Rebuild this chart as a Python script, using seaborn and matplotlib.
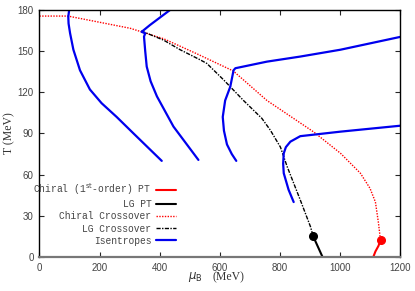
import matplotlib
matplotlib.use('Agg')
import matplotlib.pyplot as plt
import seaborn as sns
import pandas as pd

# Phase diagram curves (mu_B in MeV, T in MeV)
chiral_pt_mu = [1135, 1128, 1118, 1111]
chiral_pt_T = [12, 8, 4, 0]

lg_pt_mu = [911, 942]
lg_pt_T = [15, 0]

chiral_co_mu = [0, 95, 200, 302, 413, 524, 645, 757, 913, 1002, 1068, 1100, 1118, 1128, 1135]
chiral_co_T = [175.5, 175.5, 171, 166.6, 159, 148, 135.5, 114, 91, 75.5, 61, 50, 40, 25, 12]

lg_co_mu = [340, 346, 413, 468, 535, 557, 613, 679, 740, 768, 802, 824, 868, 902, 911]
lg_co_T = [165, 164, 158, 151, 143.6, 141, 129, 114, 101, 92.5, 80, 66, 41.5, 22, 15]

isen1_mu = [99, 96, 97, 102, 113, 135, 168, 207, 257, 313, 407]
isen1_T = [180, 175, 170, 163, 151, 136, 122, 112, 102, 90, 70]
isen2_mu = [435, 368, 340, 352, 348, 352, 357, 370, 391, 446, 529]
isen2_T = [180, 169, 164, 163, 160.5, 150, 138.7, 128, 117, 95, 70.7]
isen3_mu = [1200, 1002, 868, 757, 652, 646, 635, 618, 610, 614, 624, 640, 655]
isen3_T = [160.3, 151, 146, 142.3, 137.5, 136, 124, 114, 102, 92, 82, 75, 70]
isen4_mu = [1200, 1002, 868, 835, 820, 813, 811, 813, 829, 846]
isen4_T = [95.6, 91.3, 88, 84, 80, 75.5, 68, 61, 49, 40]

endpoints_mu = [911, 1135]
endpoints_T = [15, 12]
endpoint_colors = ['black', 'red']

sns.set_style('ticks')
plt.rcParams['font.family'] = ['Liberation Sans', 'DejaVu Sans']

fig = plt.figure(figsize=(4.15, 2.91), dpi=100)
ax = fig.add_axes([0.095, 0.117, 0.869, 0.849])

common = dict(ax=ax, sort=False, estimator=None)
sns.lineplot(x=chiral_pt_mu, y=chiral_pt_T, color='red', lw=1.5,
             label='Chiral (1$^{\\rm st}$-order) PT', **common)
sns.lineplot(x=lg_pt_mu, y=lg_pt_T, color='black', lw=1.5, label='LG PT', **common)
sns.lineplot(x=chiral_co_mu, y=chiral_co_T, color='red', lw=1.0,
             linestyle=(0, (1, 1)), label='Chiral Crossover', **common)
sns.lineplot(x=lg_co_mu, y=lg_co_T, color='black', lw=1.0,
             linestyle=(0, (3, 1, 1, 1)), label='LG Crossover', **common)
for i, (m, t) in enumerate([(isen1_mu, isen1_T), (isen2_mu, isen2_T),
                            (isen3_mu, isen3_T), (isen4_mu, isen4_T)]):
    sns.lineplot(x=m, y=t, color='#0000ee', lw=1.6,
                 label='Isentropes' if i == 0 else None, **common)

for m, t, c in zip(endpoints_mu, endpoints_T, endpoint_colors):
    ax.plot(m, t, 'o', color=c, ms=5.5, zorder=5)

ax.set_xlim(0, 1200)
ax.set_ylim(0, 180)
ax.set_xticks(range(0, 1201, 200))
ax.set_yticks(range(0, 181, 30))
ax.tick_params(direction='in', length=3.5, width=0.8, labelsize=7, labelcolor='#444444',
               top=True, right=True, pad=4)
for s in ['top', 'right', 'left']:
    ax.spines[s].set_color('black')
    ax.spines[s].set_linewidth(1.0)
ax.spines['bottom'].set_color('#777777')
ax.spines['bottom'].set_linewidth(1.6)

ax.set_xlabel('')
ax.set_ylabel('T (MeV)', fontsize=8.5, family='Liberation Serif', color='#333333', labelpad=2)
fig.text(0.453, 0.048, '$\\mu_{\\rm B}$', fontsize=8.5, color='#333333', ha='left', va='center')
fig.text(0.512, 0.048, '(MeV)', fontsize=8.5, family='Liberation Serif', color='#333333',
         ha='left', va='center')

leg = ax.legend(loc='lower right', bbox_to_anchor=(0.39, 0.03), frameon=False, markerfirst=False,
                prop={'family': 'Liberation Mono', 'size': 6.9}, handlelength=2.1,
                labelspacing=0.22, handletextpad=0.5, borderaxespad=0)
for t in leg.get_texts():
    t.set_color('#444444')

fig.savefig('out.png', dpi=100)
